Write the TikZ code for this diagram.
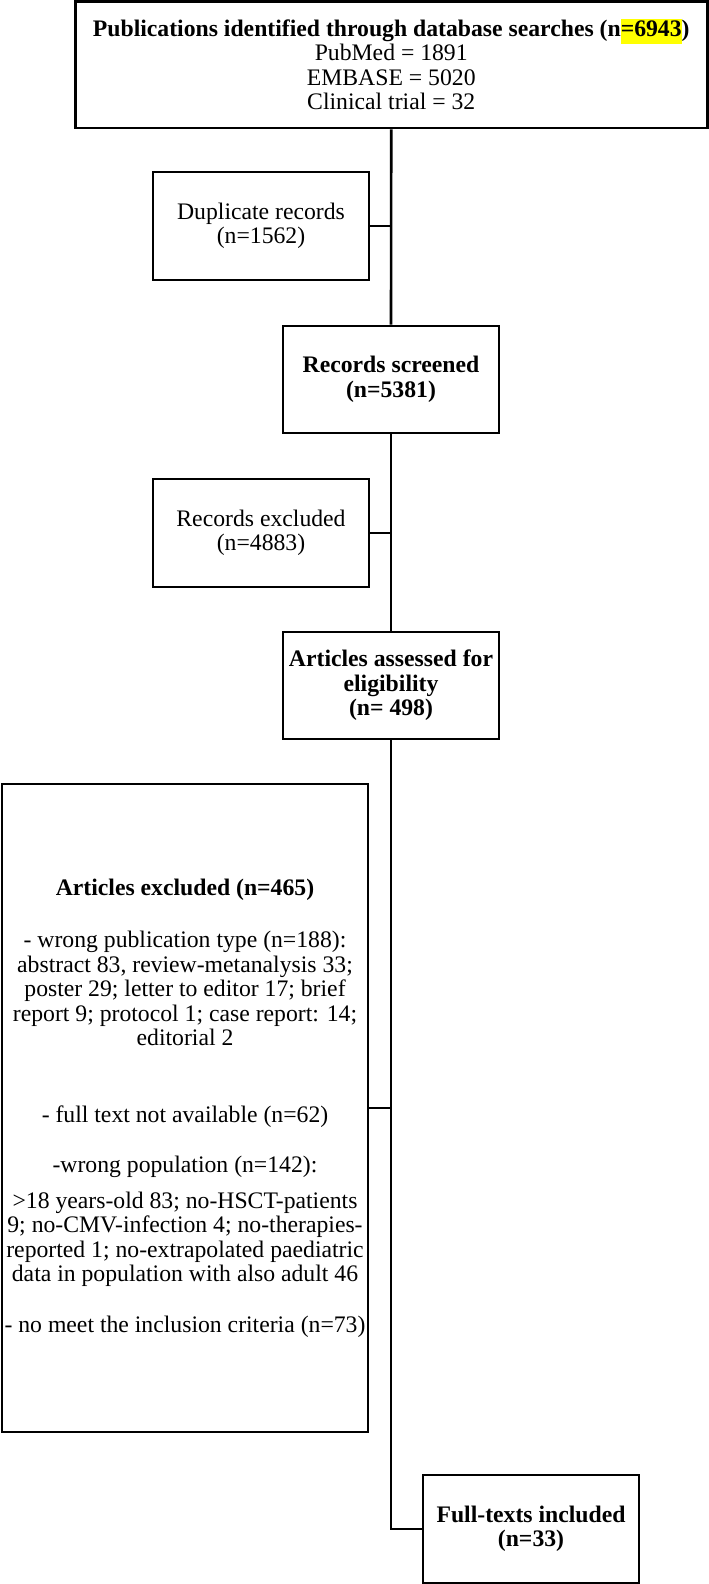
\documentclass[tikz,border=0pt]{standalone}
\usepackage{fontspec}
\setmainfont{Liberation Serif}
\usepackage{xcolor}
\definecolor{hlyellow}{HTML}{FFFF00}
\newcommand{\hlnum}[1]{{\setlength{\fboxsep}{0pt}\colorbox{hlyellow}{\strut#1}}}

\begin{document}
\begin{tikzpicture}[x=1pt,y=-1pt,
  box/.style={draw,line width=2.6pt,inner sep=0pt,align=center,
    minimum width=216pt,minimum height=108pt,font=\fontsize{23.7}{24.5}\selectfont},
  link/.style={line width=2.6pt}]
  \useasboundingbox (0,0) rectangle (709,1584);
  % boxes
  \node[box,minimum width=632pt,minimum height=126.5pt] (search) at (391.25,64.75)
    {\textbf{Publications identified through database searches (n\hlnum{=6943})}\\
     PubMed = 1891\\ EMBASE = 5020\\ Clinical trial = 32};
  \node[box] (dupl) at (261,226) {Duplicate records\\(n=1562)};
  \node[box,minimum height=107pt] (screened) at (391,379.5) {\textbf{Records screened}\\\textbf{(n=5381)}};
  \node[box] (recexcl) at (261,533) {Records excluded\\(n=4883)};
  \node[box,minimum height=107pt] (assessed) at (391,685.5)
    {\textbf{Articles assessed for}\\\textbf{eligibility}\\\textbf{(n= 498)}};
  \node[box,minimum width=366pt,minimum height=648pt] (artexcl) at (185,1108)
    {\textbf{Articles excluded (n=465)}\\[28pt]
     - wrong publication type (n=188):\\
     abstract 83, review-metanalysis 33;\\
     poster 29; letter to editor 17; brief\\
     report 9; protocol 1; case report: 14;\\
     editorial 2\\[52pt]
     - full text not available (n=62)\\[26pt]
     -wrong population (n=142):\\[11pt]
     >18 years-old 83; no-HSCT-patients\\
     9; no-CMV-infection 4; no-therapies-\\
     reported 1; no-extrapolated paediatric\\
     data in population with also adult 46\\[26pt]
     - no meet the inclusion criteria (n=73)};
  \node[box] (included) at (531,1529) {\textbf{Full-texts included}\\\textbf{(n=33)}};
  % connectors
  \draw[link] (search.south) -- (screened.north);
  \draw[link] (dupl.east) -- (dupl.east -| screened.north);
  \draw[link] (screened.south) -- (assessed.north);
  \draw[link] (recexcl.east) -- (recexcl.east -| assessed.north);
  \draw[link] (assessed.south) |- (included.west);
  \draw[link] (artexcl.east) -- (artexcl.east -| assessed.south);
\end{tikzpicture}
\end{document}
